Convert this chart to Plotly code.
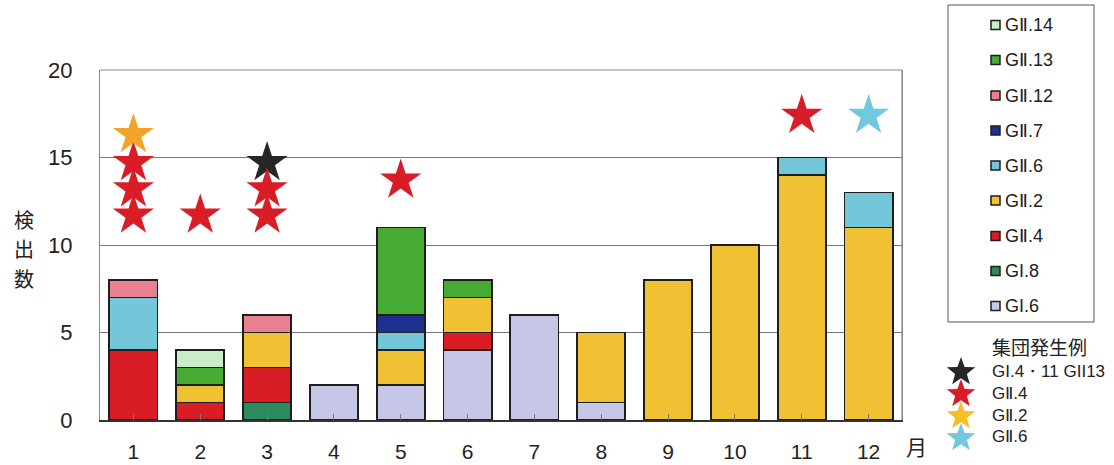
import math
import plotly.graph_objects as go

# Monthly detections by genotype
months = [1, 2, 3, 4, 5, 6, 7, 8, 9, 10, 11, 12]
month_labels = ["1", "2", "3", "4", "5", "6", "7", "8", "9", "10", "11", "12"]

gi6 = [0, 0, 0, 2, 2, 4, 6, 1, 0, 0, 0, 0]
gi8 = [0, 0, 1, 0, 0, 0, 0, 0, 0, 0, 0, 0]
gii4 = [4, 1, 2, 0, 0, 1, 0, 0, 0, 0, 0, 0]
gii2 = [0, 1, 2, 0, 2, 2, 0, 4, 8, 10, 14, 11]
gii6 = [3, 0, 0, 0, 1, 0, 0, 0, 0, 0, 1, 2]
gii7 = [0, 0, 0, 0, 1, 0, 0, 0, 0, 0, 0, 0]
gii12 = [1, 0, 1, 0, 0, 0, 0, 0, 0, 0, 0, 0]
gii13 = [0, 1, 0, 0, 5, 1, 0, 0, 0, 0, 0, 0]
gii14 = [0, 1, 0, 0, 0, 0, 0, 0, 0, 0, 0, 0]

# Outbreak markers (month, height of star)
outbreak_gi4_11_gii13_x = [3]
outbreak_gi4_11_gii13_y = [14.7]
outbreak_gii4_x = [1, 1, 1, 2, 3, 3, 5, 11]
outbreak_gii4_y = [11.7, 13.2, 14.7, 11.7, 11.7, 13.2, 13.7, 17.4]
outbreak_gii2_x = [1]
outbreak_gii2_y = [16.3]
outbreak_gii6_x = [12]
outbreak_gii6_y = [17.4]

series = [
    ("GI.6", gi6, "#c6c6e6"),
    ("GI.8", gi8, "#2b8a5e"),
    ("GⅡ.4", gii4, "#d81e24"),
    ("GⅡ.2", gii2, "#f0c132"),
    ("GⅡ.6", gii6, "#74c7d8"),
    ("GⅡ.7", gii7, "#1e2f8e"),
    ("GⅡ.12", gii12, "#e8808f"),
    ("GⅡ.13", gii13, "#45ab32"),
    ("GⅡ.14", gii14, "#c9ecc9"),
]

outbreaks = [
    ("GI.4・11 GII13", outbreak_gi4_11_gii13_x, outbreak_gi4_11_gii13_y, "#262626"),
    ("GⅡ.4", outbreak_gii4_x, outbreak_gii4_y, "#da1c26"),
    ("GⅡ.2", outbreak_gii2_x, outbreak_gii2_y, "#f2a42a"),
    ("GⅡ.6", outbreak_gii6_x, outbreak_gii6_y, "#72c8de"),
]
legend_star_colors = ["#262626", "#da1c26", "#f2c12a", "#72c8de"]

W, H = 1114, 465
L, R, T, B = 100, 902, 70, 420
LATIN = "Liberation Sans, Arial, sans-serif"
CJK = "Noto Sans CJK JP, sans-serif"


def px(x):
    return (x - L) / (R - L)


def py(y):
    return (B - y) / (B - T)


fig = go.Figure()

for name, vals, color in series:
    fig.add_trace(go.Bar(
        x=months, y=vals, name=name, width=0.72,
        marker=dict(color=color, line=dict(color="#1e1e1e", width=1.8)),
        showlegend=False,
    ))

for name, xs, ys, color in outbreaks:
    fig.add_trace(go.Scatter(
        x=xs, y=ys, mode="markers", name=name, showlegend=False,
        marker=dict(symbol="star", size=31, color=color,
                    line=dict(width=0)),
    ))

shapes = []
annotations = []

# Genotype legend box
shapes.append(dict(type="rect", xref="paper", yref="paper",
                   x0=px(948), x1=px(1094), y0=py(322), y1=py(5),
                   line=dict(color="#555", width=1), fillcolor="white"))
legend_rows = [25, 60, 95.5, 130.5, 165.5, 200.5, 236, 271, 306]
for (name, vals, color), yy in zip(reversed(series), legend_rows):
    shapes.append(dict(type="rect", xref="paper", yref="paper",
                       x0=px(991), x1=px(1000), y0=py(yy + 4.5), y1=py(yy - 4.5),
                       line=dict(color="#1e1e1e", width=1.5), fillcolor=color))
    annotations.append(dict(xref="paper", yref="paper", x=px(1003), y=py(yy),
                            text=name, showarrow=False, xanchor="left",
                            yanchor="middle",
                            font=dict(family=LATIN, size=18, color="#222")))

# Outbreak legend
annotations.append(dict(xref="paper", yref="paper", x=px(990), y=py(346),
                        text="集団発生例", showarrow=False, xanchor="left",
                        yanchor="middle",
                        font=dict(family=CJK, size=19, color="#222")))


def star_path(cx, cy, r_out, r_in):
    pts = []
    for i in range(10):
        r = r_out if i % 2 == 0 else r_in
        a = -math.pi / 2 + i * math.pi / 5
        pts.append((cx + r * math.cos(a), cy + r * math.sin(a)))
    return "M " + " L ".join(f"{px(x):.5f},{py(y):.5f}" for x, y in pts) + " Z"


star_rows = [371, 393, 415, 437]
for (name, xs, ys, color), scol, yy in zip(outbreaks, legend_star_colors, star_rows):
    shapes.append(dict(type="path", xref="paper", yref="paper",
                       path=star_path(961, yy + 1, 15, 6.2),
                       line=dict(width=0), fillcolor=scol))
    annotations.append(dict(xref="paper", yref="paper", x=px(990), y=py(yy),
                            text=name, showarrow=False, xanchor="left",
                            yanchor="middle",
                            font=dict(family=LATIN, size=17, color="#222")))

# Axis titles: vertical y title, one character per line
for ch, yy in zip("検出数", [219, 248.5, 278]):
    annotations.append(dict(xref="paper", yref="paper", x=px(24), y=py(yy),
                            text=ch, showarrow=False,
                            xanchor="center", yanchor="middle",
                            font=dict(family=CJK, size=20, color="#222")))
annotations.append(dict(xref="paper", yref="paper", x=px(917), y=py(446),
                        text="月", showarrow=False,
                        xanchor="center", yanchor="middle",
                        font=dict(family=CJK, size=21, color="#222")))

fig.update_layout(
    width=W, height=H,
    margin=dict(l=L, r=W - R, t=T, b=H - B),
    barmode="stack",
    plot_bgcolor="white", paper_bgcolor="white",
    shapes=shapes, annotations=annotations,
    showlegend=False,
)
fig.update_xaxes(
    range=[0.5, 12.5], tickmode="array", tickvals=months, ticktext=month_labels,
    ticks="inside", tickson="boundaries", ticklen=6, tickcolor="#777",
    showline=True, linecolor="#333", linewidth=1.5, mirror=False,
    showgrid=False, tickfont=dict(family=LATIN, size=21, color="#222"),
    ticklabelstandoff=12, automargin=False,
)
fig.update_yaxes(
    range=[0, 20], tickvals=[0, 5, 10, 15, 20],
    showline=True, linecolor="#888", linewidth=1.2, mirror=True,
    showgrid=True, gridcolor="#777", gridwidth=1, ticks="",
    tickfont=dict(family=LATIN, size=22, color="#222"), ticklabelstandoff=22,
    zeroline=False, automargin=False,
)
fig.add_shape(type="line", xref="paper", yref="paper", x0=0, x1=1, y0=1, y1=1,
              line=dict(color="#888", width=1.2))
fig.add_shape(type="line", xref="paper", yref="paper", x0=1, x1=1, y0=0, y1=1,
              line=dict(color="#888", width=1.2))

fig.write_html("out.html")
